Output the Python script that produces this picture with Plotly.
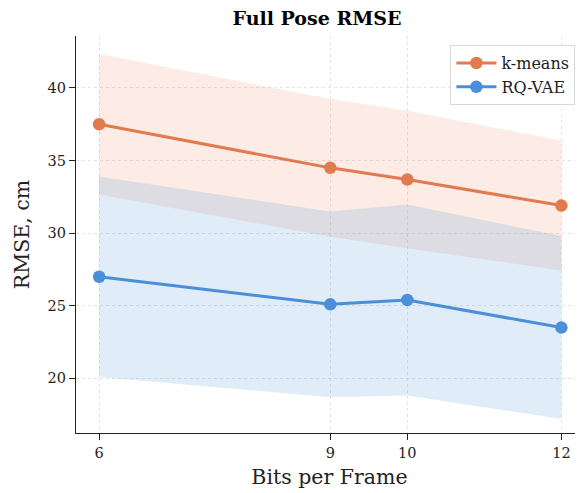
import plotly.graph_objects as go

bits = [6, 9, 10, 12]
kmeans_mean = [37.5, 34.5, 33.7, 31.9]
kmeans_std = [4.84, 4.74, 4.74, 4.47]
rqvae_mean = [27.0, 25.1, 25.4, 23.5]
rqvae_std = [6.9, 6.4, 6.57, 6.3]
x_ticks = [6, 9, 10, 12]
y_ticks = [20, 25, 30, 35, 40]

FONT = "DejaVu Serif"
series = [
    ("k-means", kmeans_mean, kmeans_std, "#E07A4F", "rgba(240,140,100,0.17)"),
    ("RQ-VAE", rqvae_mean, rqvae_std, "#4A8FD8", "rgba(74,143,216,0.17)"),
]

# page body has an 8px margin; the figure is sized to fill the rest of the 583x493 window
W, H = 575, 485

fig = go.Figure()
for name, mean, std, col, fillcol in series:
    upper = [m + s for m, s in zip(mean, std)]
    lower = [m - s for m, s in zip(mean, std)]
    fig.add_trace(go.Scatter(x=bits, y=upper, mode="lines", line=dict(width=0, color=col),
                             showlegend=False, hoverinfo="skip", legendgroup=name))
    fig.add_trace(go.Scatter(x=bits, y=lower, mode="lines", line=dict(width=0, color=col),
                             fill="tonexty", fillcolor=fillcol, showlegend=False, hoverinfo="skip",
                             legendgroup=name))
for name, mean, std, col, fillcol in series:
    fig.add_trace(go.Scatter(x=bits, y=mean, mode="lines+markers", name=name, legendgroup=name,
                             line=dict(color=col, width=3),
                             marker=dict(size=12.5, color=col)))

grid = dict(showgrid=True, gridcolor="rgba(200,200,200,0.5)", griddash="3px,3px", gridwidth=0.8)
fig.update_layout(
    width=W, height=H,
    margin=dict(l=68, r=0, t=28, b=60),
    plot_bgcolor="white", paper_bgcolor="white",
    font=dict(family=FONT, color="#222222", size=14.5),
    title=dict(text="<b>Full Pose RMSE</b>", x=309 / W, xanchor="center", y=1 - 10.5 / H, yanchor="middle",
               font=dict(family=FONT, size=19, color="black"), automargin=False),
    showlegend=True,
    legend=dict(x=0.985, xanchor="right", y=0.977, yanchor="top", traceorder="normal",
                bgcolor="rgba(255,255,255,0.85)", bordercolor="#d8d8d8", borderwidth=1,
                font=dict(family=FONT, size=16, color="#222222"),
                itemwidth=40, tracegroupgap=8),
)
fig.update_xaxes(
    range=[5.7, 12.28], tickvals=x_ticks, ticktext=[str(v) for v in x_ticks],
    showline=True, linecolor="#222222", linewidth=1.3, ticks="outside", ticklen=6, tickcolor="#222222",
    zeroline=False, tickfont=dict(size=14.5), automargin=False, **grid,
    title=dict(text="Bits per Frame", font=dict(size=20.5), standoff=10),
)
fig.update_yaxes(
    range=[16.24, 43.58], tickvals=y_ticks, ticktext=[str(v) for v in y_ticks],
    showline=True, linecolor="#222222", linewidth=1.3, ticks="outside", ticklen=6, tickcolor="#222222",
    zeroline=False, tickfont=dict(size=14.5), automargin=False, **grid,
    title=dict(text="RMSE, cm", font=dict(size=20.5), standoff=12),
)
fig.write_html("out.html")
